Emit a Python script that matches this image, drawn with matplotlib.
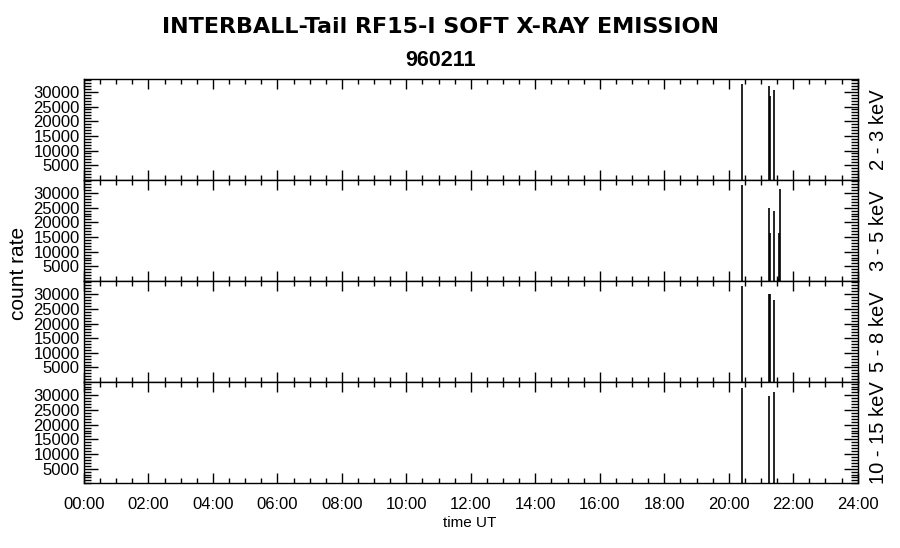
import matplotlib
matplotlib.use("Agg")
import matplotlib.pyplot as plt
from matplotlib.ticker import MultipleLocator, FuncFormatter

plt.rcParams['font.family'] = ['Liberation Sans', 'DejaVu Sans']

# Data
title_line1 = "INTERBALL-Tail RF15-I SOFT X-RAY EMISSION"
title_line2 = "960211"
bands = ["2 - 3 keV", "3 - 5 keV", "5 - 8 keV", "10 - 15 keV"]
spike_times = [20.41, 21.26, 21.28, 21.40, 21.52, 21.57, 21.59]  # hours UT
counts_2_3 = [32600, 31900, 28600, 30600, 0, 0, 0]
counts_3_5 = [32700, 24900, 16500, 23800, 1100, 16500, 31300]
counts_5_8 = [32800, 30000, 30000, 28000, 0, 0, 0]
counts_10_15 = [32500, 29700, 0, 31100, 0, 0, 0]
band_counts = [counts_2_3, counts_3_5, counts_5_8, counts_10_15]
y_ticks = [5000, 10000, 15000, 20000, 25000, 30000]
x_tick_hours = list(range(0, 25, 2))

fig = plt.figure(figsize=(9, 5.48), dpi=100)
left, right = 84 / 900, 857.7 / 900
top_px, bot_px = 78.7, 483.3
h_px = (bot_px - top_px) / 4

axes = []
for i, (band, vals) in enumerate(zip(bands, band_counts)):
    y_top = top_px + i * h_px
    ax = fig.add_axes([left, 1 - (y_top + h_px) / 548, right - left, h_px / 548])
    axes.append(ax)
    ax.vlines(spike_times, 0, vals, colors='black', linewidth=1.2)
    ax.set_xlim(0, 24)
    ax.set_ylim(0, 34500)
    ax.set_yticks(y_ticks)
    ax.yaxis.set_minor_locator(MultipleLocator(1000))
    ax.xaxis.set_major_locator(MultipleLocator(2))
    ax.xaxis.set_minor_locator(MultipleLocator(0.5))
    ax.tick_params(axis='x', which='major', direction='in', length=7, width=1,
                   top=True, bottom=True)
    ax.tick_params(axis='x', which='minor', direction='in', length=3.5, width=1,
                   top=True, bottom=True)
    ax.tick_params(axis='y', which='major', direction='in', length=10, width=1,
                   left=True, right=True, labelsize=12, pad=3)
    ax.tick_params(axis='y', which='minor', direction='in', length=5, width=1,
                   left=True, right=True)
    for s in ax.spines.values():
        s.set_linewidth(1.0)
    if i < 3:
        ax.set_xticklabels([])
    else:
        ax.set_xticks(x_tick_hours)
        ax.xaxis.set_major_formatter(FuncFormatter(lambda v, p: "%02d:00" % int(round(v))))
        ax.tick_params(axis='x', labelsize=12, pad=10)
    fig.text(878 / 900, 1 - (y_top + h_px / 2) / 548, band, rotation=90,
             ha='center', va='center', fontsize=14.5)

fig.text(441 / 900, 1 - 27 / 548, title_line1, ha='center', va='center',
         fontsize=16, fontweight='bold', family='DejaVu Sans')
fig.text(441 / 900, 1 - 60 / 548, title_line2, ha='center', va='center',
         fontsize=15.5, fontweight='bold')
fig.text(19 / 900, 1 - 273 / 548, "count rate", rotation=90, ha='center',
         va='center', fontsize=15)
fig.text(470 / 900, 1 - 523 / 548, "time UT", ha='center', va='center',
         fontsize=11)

fig.savefig("out.png", dpi=100)
